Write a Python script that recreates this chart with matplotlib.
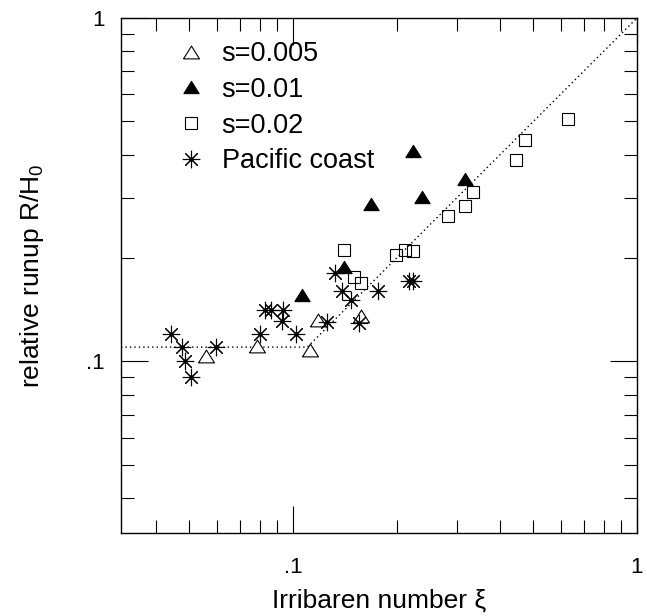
import matplotlib
matplotlib.use('Agg')
import matplotlib.pyplot as plt
from matplotlib.ticker import FixedLocator, NullFormatter

plt.rcParams['font.family'] = ['Liberation Sans', 'DejaVu Sans']
plt.rcParams['mathtext.fontset'] = 'custom'
plt.rcParams['mathtext.rm'] = 'Liberation Sans'
plt.rcParams['mathtext.it'] = 'Liberation Sans:italic'

# s=0.005 (open triangles)
xi_s005 = [0.0559, 0.0788, 0.112, 0.1184, 0.1576]
r_s005 = [0.1036, 0.111, 0.1076, 0.1316, 0.1354]
# s=0.01 (filled triangles)
xi_s01 = [0.2237, 0.316, 0.1682, 0.2366, 0.141, 0.106]
r_s01 = [0.409, 0.340, 0.288, 0.301, 0.188, 0.1565]
# s=0.02 (open squares)
xi_s02 = [0.631, 0.472, 0.445, 0.334, 0.316, 0.283, 0.1407, 0.1993, 0.2116,
          0.2237, 0.1504, 0.1576]
r_s02 = [0.508, 0.442, 0.387, 0.312, 0.283, 0.2645, 0.2116, 0.2037, 0.2116,
         0.2102, 0.1762, 0.1694]
# Pacific coast field data
xi_pac = [0.0441, 0.0475, 0.0485, 0.0504, 0.0597, 0.0802, 0.0829, 0.0863,
          0.0937, 0.0931, 0.102, 0.1258, 0.1329, 0.1388, 0.1475, 0.1559,
          0.177, 0.2174, 0.2233]
r_pac = [0.1203, 0.1103, 0.1002, 0.0900, 0.1103, 0.1203, 0.1407, 0.1407,
         0.1407, 0.1307, 0.1203, 0.130, 0.1803, 0.1605, 0.1504, 0.1296,
         0.1601, 0.1712, 0.1712]
# dotted reference curve
fit_xi = [10 ** -1.5, 0.11, 1.0]
fit_r = [0.11, 0.11, 1.0]

major_ticks = [0.1, 1.0]
major_labels = ['.1', '1']

fig = plt.figure(figsize=(6.47, 6.16), dpi=100)
ax = fig.add_axes([121 / 647, 1 - 533 / 616, 516 / 647, 515 / 616])

tri = [(-1, -0.8), (1, -0.8), (0, 0.8), (-1, -0.8)]

ax.plot(fit_xi, fit_r, color='k', lw=1.0, ls=(0, (1, 2.2)), zorder=1)

h1, = ax.plot(xi_s005, r_s005, ls='', marker=tri, ms=11.5, mfc='white',
              mec='k', mew=0.8, label='s=0.005', zorder=3)
h2, = ax.plot(xi_s01, r_s01, ls='', marker=tri, ms=11, mfc='k',
              mec='k', mew=0.8, label='s=0.01', zorder=3)
h3, = ax.plot(xi_s02, r_s02, ls='', marker='s', ms=9, mfc='none',
              mec='k', mew=0.8, label='s=0.02', zorder=3)
h4, = ax.plot(xi_pac, r_pac, ls='', marker=(8, 2, 0), ms=12.5,
              mec='k', mew=0.8, zorder=3)
h4d, = ax.plot(xi_pac, r_pac, ls='', marker='o', ms=3, mfc='k',
               mec='k', mew=0, zorder=3)

ax.set_xscale('log')
ax.set_yscale('log')
ax.set_xlim(10 ** -1.5, 1)
ax.set_ylim(10 ** -1.5, 1)

for axis in (ax.xaxis, ax.yaxis):
    axis.set_major_locator(FixedLocator(major_ticks))
    axis.set_minor_locator(FixedLocator(
        [m * 10 ** e for e in (-2, -1) for m in range(2, 10)]))
    axis.set_minor_formatter(NullFormatter())
ax.set_xticklabels(major_labels)
ax.set_yticklabels(major_labels)

ax.tick_params(which='both', direction='in', top=True, right=True,
               width=0.8, color='k')
ax.tick_params(which='major', length=19.5)
ax.tick_params(which='minor', length=9.7)
ax.tick_params(axis='x', which='major', pad=17, labelsize=16)
ax.tick_params(axis='y', which='major', pad=12, labelsize=16)
for sp in ax.spines.values():
    sp.set_linewidth(1.0)

ax.set_xlabel('Irribaren number ξ', fontsize=19, labelpad=8)
ax.set_ylabel('relative runup R/H$_0$', fontsize=19, va='center')
ax.yaxis.set_label_coords(-0.172, 0.5)

ax.legend([h1, h2, h3, (h4, h4d)], ['s=0.005', 's=0.01', 's=0.02', 'Pacific coast'],
          loc='upper left', bbox_to_anchor=(0.1047, 0.955), frameon=False,
          fontsize=19.5, handlelength=1.2, handletextpad=0.52,
          labelspacing=0.36, borderpad=0, borderaxespad=0)

fig.savefig('out.png', dpi=100)
